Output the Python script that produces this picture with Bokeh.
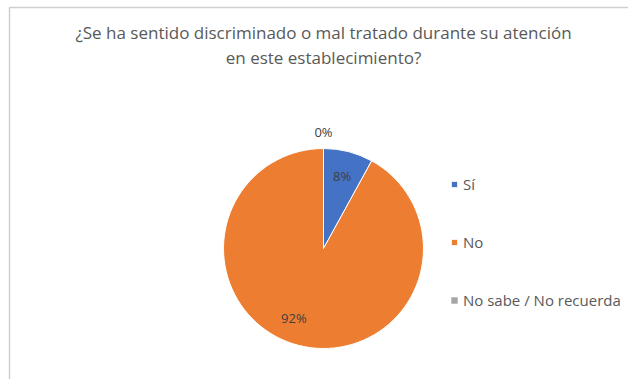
import math
from bokeh.plotting import figure
from bokeh.models import Range1d, Label, Legend, LegendItem, ColumnDataSource
from bokeh.embed import file_html
from bokeh.resources import INLINE

# ---- data ----
categories = ["Sí", "No", "No sabe / No recuerda"]
values = [8, 92, 0]
pct_labels = ["8%", "92%", "0%"]
colors = ["#4472C4", "#ED7D31", "#A5A5A5"]
title_lines = ["¿Se ha sentido discriminado o mal tratado durante su atención",
               "en este establecimiento?"]

W, H = 628, 379
FONT = "Open Sans"
TXT = "#595959"

p = figure(width=W, height=H, output_backend="svg", toolbar_location=None,
           x_range=Range1d(0, W), y_range=Range1d(0, H), min_border=0)
p.axis.visible = False
p.grid.visible = False
p.outline_line_color = None
p.background_fill_color = "white"
p.border_fill_color = "white"

# chart-area border (top & left visible)
p.line(x=[9, 9, W + 5], y=[-5, H - 7, H - 7], line_color="#d0d0d0", line_width=1.5)

# pie geometry (y measured from bottom)
cx, cy, r = 323, H - 248, 100
total = sum(values)
starts, ends = [], []
acc = 0.0
for v in values:
    a0 = math.pi / 2 - 2 * math.pi * acc / total
    acc += v
    a1 = math.pi / 2 - 2 * math.pi * acc / total
    starts.append(a0)
    ends.append(a1)

renderers = []
for i, v in enumerate(values):
    src = ColumnDataSource(dict(x=[cx], y=[cy], start=[starts[i]], end=[ends[i]]))
    rr = r if v > 0 else 0
    wr = p.wedge(x="x", y="y", radius=rr, start_angle="start", end_angle="end",
                 direction="clock", fill_color=colors[i],
                 line_color="white" if v > 0 else None,
                 line_width=1, source=src)
    renderers.append(wr)

# data labels
for i, (v, lab) in enumerate(zip(values, pct_labels)):
    mid = (starts[i] + ends[i]) / 2
    if v == 0:
        lx, ly = cx, cy + r + 17
    elif v < 20:
        lx, ly = cx + 0.75 * r * math.cos(mid), cy + 0.75 * r * math.sin(mid)
    else:
        lx, ly = cx + 0.75 * r * math.cos(mid) - 11, cy + 0.75 * r * math.sin(mid) + 3
    p.add_layout(Label(x=lx, y=ly, text=lab, text_align="center",
                       text_baseline="middle", text_font=FONT,
                       text_font_size="13px", text_color="#404040"))

# title
for j, line in enumerate(title_lines):
    p.add_layout(Label(x=323, y=H - 32 - 25 * j, text=line, text_align="center",
                       text_baseline="middle", text_font=FONT,
                       text_font_size="17px", text_color=TXT))

# legend
items = [LegendItem(label=c, renderers=[renderers[i]]) for i, c in enumerate(categories)]
legend = Legend(items=items, location=(450, 69), orientation="vertical",
                glyph_width=8, glyph_height=8, label_height=20, spacing=38,
                label_text_font=FONT, label_text_font_size="15px",
                label_text_color=TXT, label_standoff=5,
                padding=0, margin=0, border_line_alpha=0,
                background_fill_alpha=0)
p.add_layout(legend)

open("out.html", "w").write(file_html(p, INLINE))
